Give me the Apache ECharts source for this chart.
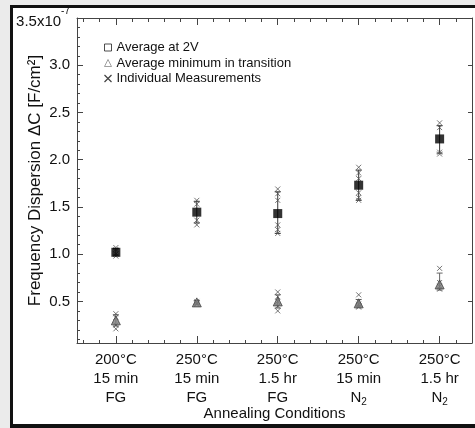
<!DOCTYPE html>
<html>
<head>
<meta charset="utf-8">
<script src="https://cdn.jsdelivr.net/npm/echarts@6/dist/echarts.min.js"></script>
<style>
  html, body { margin: 0; padding: 0; background: #ebebeb; overflow: hidden; }
  #frame { position: absolute; left: 10px; top: 5px; width: 470px; height: 416px;
           border: 3px solid #111; border-bottom-width: 4px; background: #fff; }
  #chart { position: absolute; left: 0; top: 0; width: 475px; height: 428px; }
</style>
</head>
<body>
<div id="frame"></div>
<div id="chart"></div>
<script>
// annealing conditions, placed at x = 1..5
const condPos = [1, 2, 3, 4, 5];
const condLabels = [
  '200°C\n15 min\nFG',
  '250°C\n15 min\nFG',
  '250°C\n1.5 hr\nFG',
  '250°C\n15 min\nN{sub|2}',
  '250°C\n1.5 hr\nN{sub|2}'
];

// average at 2V (x1e-7 F/cm2) with error bar limits
const avg2V = [1.02, 1.445, 1.43, 1.73, 2.22];
const avg2VLow = [0.99, 1.33, 1.22, 1.57, 2.07];
const avg2VHigh = [1.06, 1.56, 1.66, 1.89, 2.36];

// average minimum in transition
const avgMin = [0.30, 0.49, 0.50, 0.48, 0.68];
const avgMinLow = [0.24, 0.47, 0.43, 0.45, 0.62];
const avgMinHigh = [0.36, 0.51, 0.57, 0.52, 0.80];

// individual measurements, one list per condition
const indiv2V = [
  [0.98, 1.00, 1.05, 1.07],
  [1.31, 1.36, 1.53, 1.57],
  [1.22, 1.26, 1.31, 1.57, 1.64, 1.69],
  [1.57, 1.60, 1.65, 1.80, 1.86, 1.92],
  [2.06, 2.08, 2.34, 2.39]
];
const indivMin = [
  [0.21, 0.25, 0.33, 0.37],
  [0.47, 0.48, 0.50],
  [0.40, 0.45, 0.50, 0.55, 0.60],
  [0.44, 0.45, 0.47, 0.50, 0.57],
  [0.63, 0.66, 0.70, 0.85]
];

// axis ticks
const xMajorTicks = [1, 2, 3, 4, 5];
const xMinorTicks = [0.6, 0.8, 1.2, 1.4, 1.6, 1.8, 2.2, 2.4, 2.6, 2.8, 3.2, 3.4, 3.6, 3.8,
  4.2, 4.4, 4.6, 4.8, 5.2];
const yMajorTicks = [0.5, 1.0, 1.5, 2.0, 2.5, 3.0, 3.5];
const yLabelTicks = [0.5, 1.0, 1.5, 2.0, 2.5, 3.0, 3.5];
const yMinorTicks = [0.1, 0.2, 0.3, 0.4, 0.6, 0.7, 0.8, 0.9, 1.1, 1.2, 1.3, 1.4, 1.6, 1.7,
  1.8, 1.9, 2.1, 2.2, 2.3, 2.4, 2.6, 2.7, 2.8, 2.9, 3.1, 3.2, 3.3, 3.4];

const X_MIN = 0.52, X_MAX = 5.4, Y_MIN = 0.06, Y_MAX = 3.5;
const axisColor = '#444';
const textColor = '#111';
const font = 'Liberation Sans, Arial, sans-serif';
const xPath = 'path://M0,0L10,10M10,0L0,10';

const pts = (lists) => {
  const out = [];
  lists.forEach((vals, i) => vals.forEach(v => out.push([condPos[i], v])));
  return out;
};
const errBars = (low, high) => condPos.map((c, i) => [c, low[i], high[i]]);

function renderErr(color) {
  return function (params, api) {
    const x = api.value(0);
    const lo = api.coord([x, api.value(1)]);
    const hi = api.coord([x, api.value(2)]);
    const w = 3;
    const st = { stroke: color, lineWidth: 1 };
    return {
      type: 'group',
      children: [
        { type: 'line', shape: { x1: lo[0], y1: lo[1], x2: hi[0], y2: hi[1] }, style: st },
        { type: 'line', shape: { x1: lo[0] - w, y1: lo[1], x2: lo[0] + w, y2: lo[1] }, style: st },
        { type: 'line', shape: { x1: hi[0] - w, y1: hi[1], x2: hi[0] + w, y2: hi[1] }, style: st }
      ]
    };
  };
}

// one axis per tick set; lineOn draws the axis line, len is the inward tick length
function xAx(pos, ticks, len, lineOn) {
  return {
    type: 'value', min: X_MIN, max: X_MAX, position: pos,
    splitLine: { show: false },
    axisLine: { show: lineOn, onZero: false, lineStyle: { color: axisColor, width: 1 } },
    axisTick: { show: true, inside: true, length: len, customValues: ticks,
                lineStyle: { color: axisColor, width: 1 } },
    axisLabel: { show: false }
  };
}
function yAx(pos, ticks, len, lineOn) {
  return {
    type: 'value', min: Y_MIN, max: Y_MAX, position: pos,
    splitLine: { show: false },
    axisLine: { show: lineOn, onZero: false, lineStyle: { color: axisColor, width: 1 } },
    axisTick: { show: true, inside: true, length: len, customValues: ticks,
                lineStyle: { color: axisColor, width: 1 } },
    axisLabel: { show: false }
  };
}

const xMain = xAx('bottom', xMajorTicks, 7, true);
xMain.name = 'Annealing Conditions';
xMain.nameLocation = 'middle';
xMain.nameGap = 63;
xMain.nameMoveOverlap = false;
xMain.nameTextStyle = { fontSize: 15, color: textColor };
xMain.axisLabel = {
  show: true, customValues: xMajorTicks, margin: 7,
  fontSize: 15, lineHeight: 19, color: textColor,
  formatter: v => condLabels[condPos.indexOf(v)],
  rich: { sub: { fontSize: 10, lineHeight: 19, verticalAlign: 'bottom', color: textColor } }
};

const yMain = yAx('left', yMajorTicks, 6, true);
yMain.name = 'Frequency Dispersion ΔC [F/cm²]';
yMain.nameLocation = 'middle';
yMain.nameGap = 33;
yMain.nameMoveOverlap = false;
yMain.nameTextStyle = { fontSize: 17, color: textColor };
yMain.axisLabel = {
  show: true, customValues: yLabelTicks, margin: 7,
  fontSize: 15, color: textColor,
  formatter: v => v === 3.5 ? '{b|3.5x10}{e|-7}' : v.toFixed(1),
  rich: {
    b: { fontSize: 15, color: textColor, padding: [8, 0, 0, 0] },
    e: { fontSize: 10, color: textColor, verticalAlign: 'top' }
  }
};

const chart = echarts.init(document.getElementById('chart'));
chart.setOption({
  animation: false,
  textStyle: { fontFamily: font },
  grid: { left: 77, right: 3, top: 18, bottom: 85, containLabel: false, outerBoundsMode: 'none' },
  legend: {
    orient: 'vertical', left: 97, top: 36,
    itemWidth: 7, itemHeight: 7, itemGap: 2.5,
    textStyle: { fontSize: 13, color: textColor, fontFamily: font },
    data: [
      { name: 'Average at 2V', icon: 'rect',
        itemStyle: { color: '#fff', borderColor: '#222', borderWidth: 1 } },
      { name: 'Average minimum in transition', icon: 'triangle',
        itemStyle: { color: '#fff', borderColor: '#888', borderWidth: 1 } },
      { name: 'Individual Measurements', icon: xPath,
        itemStyle: { color: 'none', borderColor: '#111', borderWidth: 1.2 } }
    ]
  },
  xAxis: [
    xMain,
    xAx('bottom', xMinorTicks, 3, false),
    xAx('top', xMajorTicks, 7, true),
    xAx('top', xMinorTicks, 4, false)
  ],
  yAxis: [
    yMain,
    yAx('left', yMinorTicks, 3, false),
    yAx('right', yMajorTicks.slice(0, 6), 4, true)
  ],
  series: [
    { type: 'custom', name: 'err2V', renderItem: renderErr('#333'),
      data: errBars(avg2VLow, avg2VHigh), z: 2, silent: true },
    { type: 'custom', name: 'errMin', renderItem: renderErr('#666'),
      data: errBars(avgMinLow, avgMinHigh), z: 2, silent: true },
    { type: 'scatter', name: 'Individual Measurements', symbol: xPath, symbolSize: 5,
      itemStyle: { color: 'none', borderColor: '#555', borderWidth: 1 },
      data: pts(indiv2V).concat(pts(indivMin)), z: 3 },
    { type: 'scatter', name: 'Average minimum in transition', symbol: 'triangle', symbolSize: 9,
      itemStyle: { color: '#7a7a7a', borderColor: '#444', borderWidth: 1 },
      data: condPos.map((c, i) => [c, avgMin[i]]), z: 4 },
    { type: 'scatter', name: 'Average at 2V', symbol: 'rect', symbolSize: 9,
      itemStyle: { color: '#000' },
      data: condPos.map((c, i) => [c, avg2V[i]]), z: 5 }
  ]
});
</script>
</body>
</html>
